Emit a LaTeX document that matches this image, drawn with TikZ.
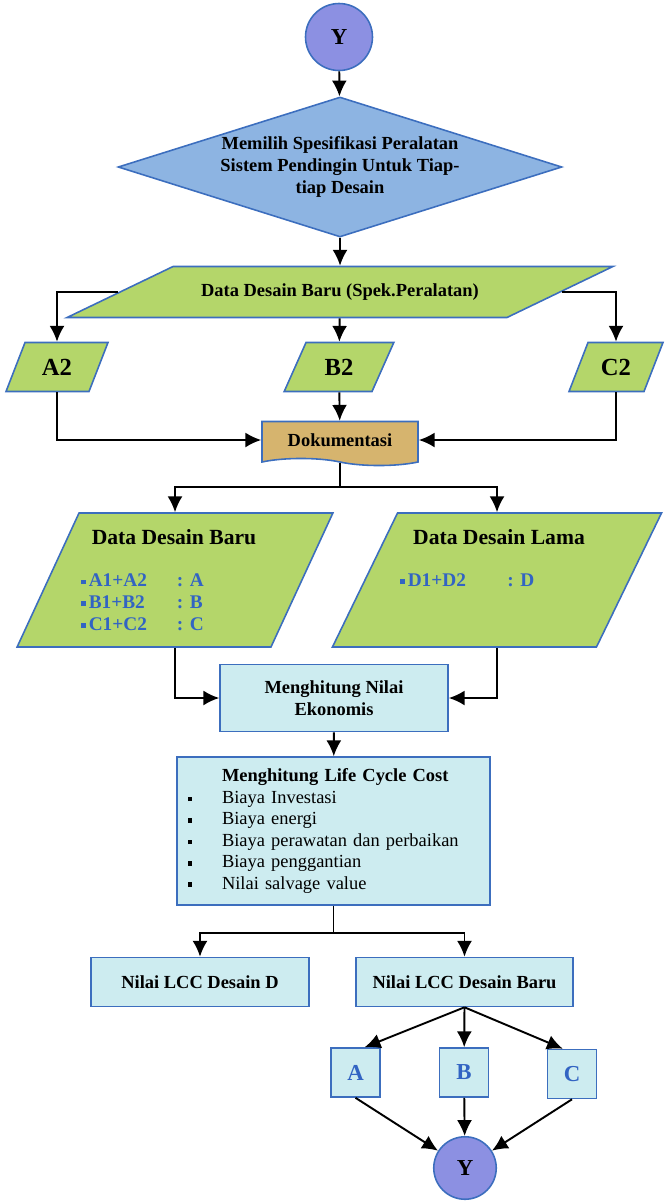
\documentclass[tikz,border=0pt]{standalone}
\usepackage{fontspec}
\setmainfont{Liberation Serif}
\usetikzlibrary{arrows.meta,shapes.geometric,shapes.symbols}

\definecolor{garisbiru}{RGB}{60,110,190}
\definecolor{isiy}{RGB}{140,144,226}
\definecolor{isibelah}{RGB}{141,180,226}
\definecolor{isihijau}{RGB}{180,214,106}
\definecolor{isitoska}{RGB}{205,236,240}
\definecolor{isidok}{RGB}{214,180,110}
\definecolor{tulisbiru}{RGB}{50,100,195}

\newcommand{\kotak}{\rule[0.25ex]{2.6pt}{2.6pt}}
\newcommand{\butir}{\makebox[0.72cm][l]{\hspace{1pt}\kotak}}
% isi jajaran genjang: lebar badan, tinggi, teks
\newcommand{\isi}[3]{\parbox[c][#2][c]{#1}{\centering\mbox{}#3}}

\begin{document}
\begin{tikzpicture}[->,>={Latex[length=9pt,width=8.5pt]},x=0.02cm,y=-0.02cm,line width=1.1pt]

            \tikzstyle{every node}=[font=\fontsize{10.5}{12.6}\selectfont\bfseries]
            \tikzstyle{blok}=[draw=garisbiru,line width=0.9pt]
            \tikzstyle{lingkaran}=[blok,circle,fill=isiy,inner sep=0pt,font=\fontsize{13}{15}\selectfont\bfseries]
            \tikzstyle{keputusan}=[blok,diamond,fill=isibelah,inner sep=0pt,minimum width=8.88cm,minimum height=2.8cm]
            \tikzstyle{data}=[blok,trapezium,fill=isihijau,inner sep=0pt]
            \tikzstyle{dokumen}=[blok,tape,tape bend top=none,tape bend bottom=out and in,tape bend height=4pt,fill=isidok,minimum width=3.12cm,minimum height=0.88cm]
            \tikzstyle{proses}=[blok,rectangle,fill=isitoska,align=center]
            \tikzstyle{huruf}=[proses,minimum size=0.98cm,text=tulisbiru,font=\fontsize{13}{15}\selectfont\bfseries]
            \tikzstyle{daftar}=[anchor=west,inner sep=0pt,align=left,text=tulisbiru,font=\fontsize{11}{12.5}\selectfont\bfseries]

            \useasboundingbox (0,0) rectangle (664,1201);

            \node[lingkaran,minimum size=1.34cm] (0) at (339,37) {Y};
            \node[keputusan,label={[align=center]center:Memilih Spesifikasi Peralatan\\Sistem Pendingin Untuk Tiap-\\tiap Desain}] (1) at (340,167) {};

            \node[data,trapezium left angle=25.7,trapezium right angle=154.3] (2) at (340,292) {\isi{6.68cm}{1.02cm}{Data Desain Baru (Spek.Peralatan)}};

            \node[data,trapezium left angle=68.8,trapezium right angle=111.2,font=\fontsize{14}{16}\selectfont\bfseries] (3) at (57,367) {\isi{1.28cm}{0.98cm}{A2}};
            \node[data,trapezium left angle=66,trapezium right angle=114,font=\fontsize{14}{16}\selectfont\bfseries] (4) at (339,367) {\isi{1.32cm}{0.98cm}{B2}};
            \node[data,trapezium left angle=68.8,trapezium right angle=111.2,font=\fontsize{14}{16}\selectfont\bfseries] (5) at (616,367) {\isi{1.12cm}{0.98cm}{C2}};

            \node[dokumen] (6) at (340,440) {Dokumentasi};
            \coordinate (6a) at (340,487);

            \node[data,trapezium left angle=65.2,trapezium right angle=114.8] (7) at (175,580) {\isi{3.84cm}{2.68cm}{}};
            \node[font=\fontsize{12.3}{14}\selectfont\bfseries] (7t) at (174,537) {Data Desain Baru};
            \node[daftar] (7l) at (80,602) {\makebox[1.92cm][l]{\kotak\,A1+A2}: A\\\makebox[1.92cm][l]{\kotak\,B1+B2}: B\\\makebox[1.92cm][l]{\kotak\,C1+C2}: C};

            \node[data,trapezium left angle=64.1,trapezium right angle=115.9] (8) at (497,580) {\isi{3.98cm}{2.68cm}{}};
            \node[font=\fontsize{12.3}{14}\selectfont\bfseries] (8t) at (499,537) {Data Desain Lama};
            \node[daftar] (8l) at (399,580) {\makebox[2.15cm][l]{\kotak\,D1+D2}: D};

            \node[proses,minimum width=4.56cm,minimum height=1.34cm] (9) at (334,698) {Menghitung Nilai\\Ekonomis};

            \node[proses,minimum width=6.26cm,minimum height=2.96cm,text width=5.9cm,align=left,font=\fontsize{10.5}{12.2}\selectfont] (10) at (333.5,831)
                {\hspace*{0.72cm}\textbf{Menghitung Life Cycle Cost}\\\butir Biaya Investasi\\\butir Biaya energi\\\butir Biaya perawatan dan perbaikan\\\butir Biaya penggantian\\\butir Nilai salvage value};
            \coordinate (10a) at (333.5,933);

            \node[proses,minimum width=4.36cm,minimum height=0.98cm] (11) at (200,982) {Nilai LCC Desain D};
            \node[proses,minimum width=4.34cm,minimum height=0.98cm] (12) at (464.5,982) {Nilai LCC Desain Baru};

            \node[huruf] (13) at (355.5,1072.5) {A};
            \node[huruf] (14) at (464,1072.5) {B};
            \node[huruf] (15) at (572,1074) {C};

            \node[lingkaran,minimum size=1.25cm] (16) at (465,1168) {Y};

            \draw (0) -- (1);
            \draw (1) -- (2);
            \draw (2) -| (3);
            \draw (2) -- (4);
            \draw (2) -| (5);
            \draw (3) |- (6);
            \draw (4) -- (6);
            \draw (5) |- (6);
            \draw[-] (6) -- (6a);
            \draw (6a) -| (7);
            \draw (6a) -| (8);
            \draw (7) |- (9);
            \draw (8) |- (9);
            \draw (9) -- (10);
            \draw[-] (10) -- (10a);
            \draw (10a) -| (11);
            \draw (10a) -| (12);
            \draw (12.south) -- (13.70);
            \draw (12.south) -- (14);
            \draw (12.south) -- (15.110);
            \draw (13.south) -- (16);
            \draw (14) -- (16);
            \draw (15.south) -- (16);
        \end{tikzpicture}
\end{document}
